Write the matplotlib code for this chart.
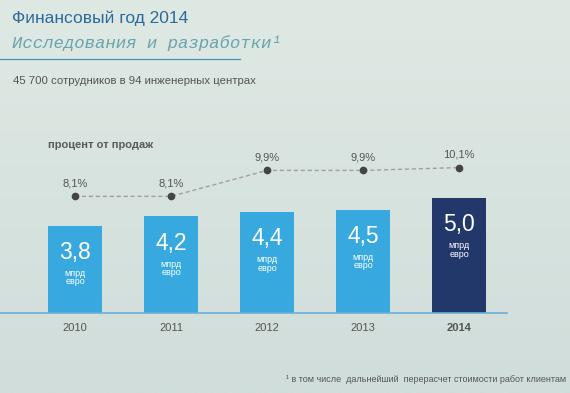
import numpy as np
import matplotlib
matplotlib.use("Agg")
import matplotlib.pyplot as plt

years = ["2010", "2011", "2012", "2013", "2014"]
spend = [3.8, 4.2, 4.4, 4.5, 5.0]
spend_labels = ["3,8", "4,2", "4,4", "4,5", "5,0"]
pct = [8.1, 8.1, 9.9, 9.9, 10.1]
pct_labels = ["8,1%", "8,1%", "9,9%", "9,9%", "10,1%"]
bar_colors = ["#38a9de", "#38a9de", "#38a9de", "#38a9de", "#23386a"]

W, H = 570, 393
fig = plt.figure(figsize=(W / 100, H / 100), dpi=100)

# background gradient
bg = fig.add_axes([0, 0, 1, 1], zorder=-10)
grad = np.linspace(0, 1, 200).reshape(-1, 1)
top = np.array([0xdf, 0xe9, 0xe4]) / 255
bot = np.array([0xd0, 0xdd, 0xda]) / 255
img = top + (bot - top) * grad[:, :, None]
bg.imshow(img, aspect="auto", extent=[0, 1, 0, 1])
bg.axis("off")

fam = ["Liberation Sans", "DejaVu Sans"]

# bar axes: bottom at baseline (80 px from bottom)
ax = fig.add_axes([0, 80 / H, 1, 1 - 80 / H])
ax.set_facecolor("none")
x = np.arange(len(years))
ax.set_xlim(-75 / 96, (570 - 75) / 96)
ax.set_ylim(0, 313 / 23)
bars = ax.bar(x, spend, width=0.56, color=bar_colors, zorder=2)
ax.axis("off")
ax.plot([-75 / 96, (507 - 75) / 96], [0, 0], color="#6aaed6", lw=1.2, zorder=3, clip_on=False)

for xi, v, lab in zip(x, spend, spend_labels):
    ax.annotate(lab, (xi, v), xytext=(0, -27), textcoords="offset pixels",
                ha="center", va="center", color="white", fontsize=16.5, family=fam)
    ax.annotate("мпрд\nевро", (xi, v), xytext=(0, -52), textcoords="offset pixels",
                ha="center", va="center", color="white", fontsize=6.5, family=fam,
                linespacing=0.95)

for xi, yr in zip(x, years):
    ax.annotate(yr, (xi, 0), xytext=(0, -15), textcoords="offset pixels",
                ha="center", va="center", color="#555555", fontsize=8,
                family=fam, fontweight="bold" if yr == "2014" else "normal",
                annotation_clip=False)

# line axis
ax2 = ax.twinx()
ax2.set_ylim(0, 313 / 14.4)
ax2.axis("off")
ax2.plot(x, pct, color="#a0a0a0", lw=1, ls=(0, (3, 2)), zorder=3)
ax2.plot(x, pct, "o", color="#444444", ms=4.5, zorder=4)
for xi, v, lab in zip(x, pct, pct_labels):
    ax2.annotate(lab, (xi, v), xytext=(0, 13), textcoords="offset pixels",
                 ha="center", va="center", color="#555555", fontsize=8, family=fam)

# header texts
fig.text(12 / W, 1 - 18 / H, "Финансовый год 2014", color="#2d6a9a",
         fontsize=12.5, family=fam, va="center", ha="left")
fig.text(12 / W, 1 - 43 / H, "Исследования и разработки¹", color="#6aa3ad",
         fontsize=12.5, family=["Liberation Mono", "DejaVu Sans Mono"], style="italic",
         va="center", ha="left")
fig.add_artist(plt.Line2D([0, 240 / W], [1 - 59 / H, 1 - 59 / H], color="#4a93c0", lw=0.9))
fig.text(13 / W, 1 - 81 / H, "45 700 сотрудников в 94 инженерных центрах", color="#555555",
         fontsize=8.2, family=fam, va="center", ha="left")
fig.text(48 / W, 1 - 145 / H, "процент от продаж", color="#5a5a5a",
         fontsize=8, family=fam, fontweight="bold", va="center", ha="left")
fig.text(566 / W, 1 - 380 / H, "¹ в том числе  дальнейший  перерасчет стоимости работ клиентам",
         color="#555555", fontsize=6.5, family=fam, va="center", ha="right")

fig.savefig("out.png", dpi=100)
